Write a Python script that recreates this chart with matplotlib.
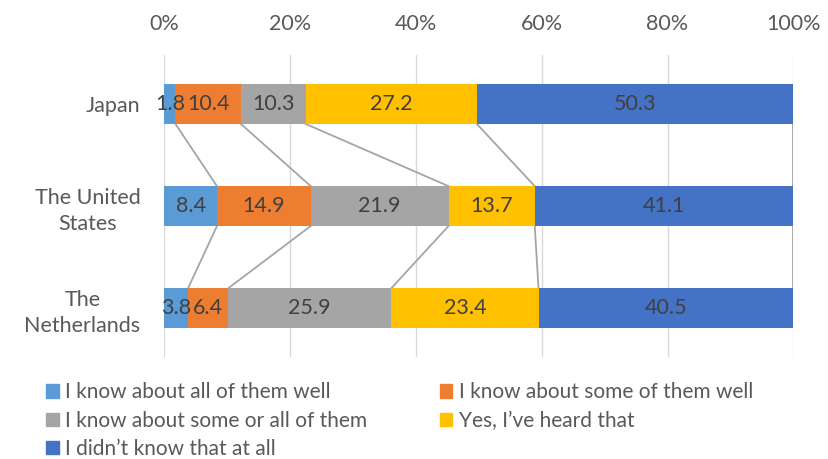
import matplotlib.pyplot as plt
import numpy as np
from matplotlib.patches import Patch

plt.rcParams['font.family'] = ['Lato', 'DejaVu Sans']

countries = ["Japan", "The United\nStates", "The\nNetherlands"]
series = ["I know about all of them well",
          "I know about some of them well",
          "I know about some or all of them",
          "Yes, I\u2019ve heard that",
          "I didn\u2019t know that at all"]
all_well = [1.8, 8.4, 3.8]
some_well = [10.4, 14.9, 6.4]
some_or_all = [10.3, 21.9, 25.9]
heard = [27.2, 13.7, 23.4]
not_at_all = [50.3, 41.1, 40.5]
colors = ["#5B9BD5", "#ED7D31", "#A5A5A5", "#FFC000", "#4472C4"]

data = np.array([all_well, some_well, some_or_all, heard, not_at_all])
pct = data / data.sum(axis=0) * 100

fig = plt.figure(figsize=(8.29, 4.59), dpi=100)
ax = fig.add_axes([0.198, 0.222, 0.759, 0.658])

y = np.arange(len(countries))
h = 0.39
left = np.zeros(len(countries))
for i in range(len(series)):
    ax.barh(y, pct[i], left=left, height=h, color=colors[i], zorder=3)
    for j in range(len(countries)):
        ax.text(left[j] + pct[i][j] / 2, y[j], f"{data[i][j]:.1f}",
                ha="center", va="center", fontsize=15.5, color="#404040", zorder=4)
    left = left + pct[i]
    # series lines between bars
    for j in range(len(countries) - 1):
        ax.plot([left[j], left[j + 1]], [y[j] + h / 2, y[j + 1] - h / 2],
                color="#A5A5A5", lw=1.3, zorder=2)

ax.set_xlim(0, 100)
ax.set_ylim(2.48, -0.48)
ax.set_xticks(np.arange(0, 101, 20))
ax.set_xticklabels([f"{v}%" for v in range(0, 101, 20)])
ax.xaxis.tick_top()
ax.set_yticks(y)
ax.set_yticklabels(countries, ha="right", multialignment="center", linespacing=1.35)
ax.tick_params(axis="y", pad=17)
ax.tick_params(axis="x", pad=15.5)
ax.tick_params(length=0, labelsize=15.5, labelcolor="#595959")
ax.grid(axis="x", color="#D9D9D9", lw=1, zorder=0)
for s in ax.spines.values():
    s.set_visible(False)

order = [0, 2, 4, 1, 3]
handles = [Patch(color=colors[k]) for k in order]
fig.legend(handles, [series[k] for k in order], loc="upper left",
           bbox_to_anchor=(0.033, 0.208), ncol=2, frameon=False,
           fontsize=15, labelcolor="#595959",
           handlelength=0.6, handleheight=0.6, handletextpad=0.3,
           columnspacing=3.5, labelspacing=0.4)

fig.savefig("out.png", dpi=100)
